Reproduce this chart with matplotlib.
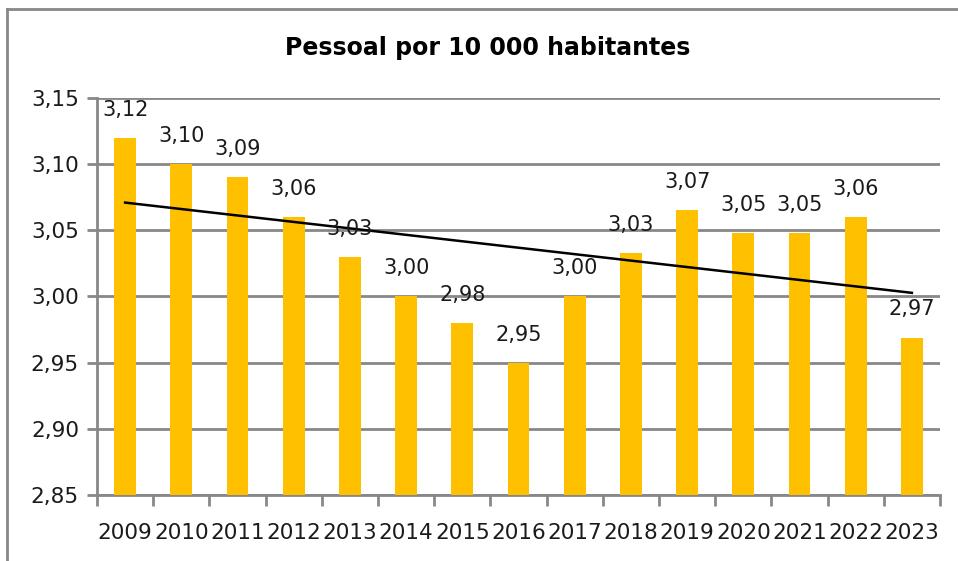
import matplotlib
matplotlib.use("Agg")
import matplotlib.pyplot as plt
import numpy as np
from matplotlib.lines import Line2D

years = ["2009", "2010", "2011", "2012", "2013", "2014", "2015", "2016",
         "2017", "2018", "2019", "2020", "2021", "2022", "2023"]
values = [3.12, 3.10, 3.09, 3.06, 3.03, 3.00, 2.98, 2.95,
          3.00, 3.033, 3.065, 3.048, 3.048, 3.06, 2.969]
labels = ["3,12", "3,10", "3,09", "3,06", "3,03", "3,00", "2,98", "2,95",
          "3,00", "3,03", "3,07", "3,05", "3,05", "3,06", "2,97"]
yticks = [2.85, 2.90, 2.95, 3.00, 3.05, 3.10, 3.15]
title = "Pessoal por 10 000 habitantes"

W, H = 958, 561
fig = plt.figure(figsize=(W / 100, H / 100), dpi=100)
plt.rcParams['font.family'] = ['DejaVu Sans']

# axes placement in pixels
left, right, top, bottom = 97, 940, 98, 495
ax = fig.add_axes([left / W, 1 - bottom / H, (right - left) / W, (bottom - top) / H])

x = np.arange(len(years))
ax.bar(x, values, width=0.39, color="#FFC000", zorder=3)
ax.set_xlim(-0.5, len(years) - 0.5)
ax.set_ylim(2.85, 3.15)

# trend line
coef = np.polyfit(x, values, 1)
ax.plot(x[[0, -1]], np.polyval(coef, x[[0, -1]]), color="black", lw=1.8, zorder=4)

# data labels
for xi, v, lab in zip(x, values, labels):
    ax.annotate(lab, (xi, v), xytext=(0, 13), textcoords="offset points",
                ha="center", va="bottom", fontsize=15, color="#1a1a1a", zorder=5)

# grid
ax.set_yticks(yticks)
ax.set_yticklabels([f"{t:.2f}".replace(".", ",") for t in yticks], fontsize=15.5, color="#1a1a1a")
ax.yaxis.grid(True, color="#888888", lw=2, zorder=0)
for s in ["top", "right"]:
    ax.spines[s].set_visible(False)
ax.spines["left"].set_color("#888888")
ax.spines["left"].set_linewidth(2)
ax.spines["bottom"].set_color("#888888")
ax.spines["bottom"].set_linewidth(2)
ax.tick_params(axis="y", length=7, width=2, color="#888888", pad=6)

# x: labels at centers, ticks at boundaries
ax.set_xticks(x)
ax.set_xticklabels(years, fontsize=15.5, color="#1a1a1a")
ax.tick_params(axis="x", length=0, pad=20)
ax.set_xticks(np.arange(-0.5, len(years)), minor=True)
ax.tick_params(axis="x", which="minor", length=8, width=2, color="#888888")

fig.text(488 / W, 1 - 48 / H, title, ha="center", va="center",
         fontsize=17, fontweight="bold", color="black")

# chart border (left and top)
fig.add_artist(Line2D([7 / W, 7 / W], [0, 1 - 9 / H], transform=fig.transFigure,
                      color="#888888", lw=2))
fig.add_artist(Line2D([7 / W, 1], [1 - 9 / H, 1 - 9 / H], transform=fig.transFigure,
                      color="#888888", lw=2))

fig.savefig("out.png", dpi=100)
